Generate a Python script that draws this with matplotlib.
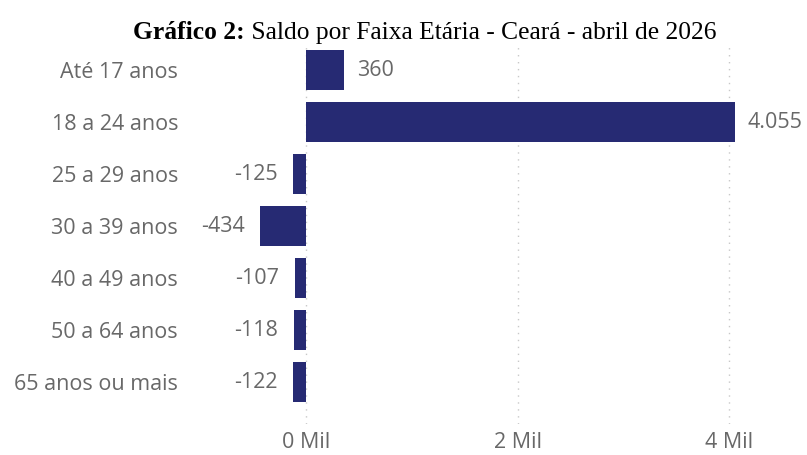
import matplotlib
matplotlib.use("Agg")
import matplotlib.pyplot as plt

categories = ["Até 17 anos", "18 a 24 anos", "25 a 29 anos", "30 a 39 anos",
              "40 a 49 anos", "50 a 64 anos", "65 anos ou mais"]
values = [360, 4055, -125, -434, -107, -118, -122]
value_labels = ["360", "4.055", "-125", "-434", "-107", "-118", "-122"]
xticks = [0, 2000, 4000]
xtick_labels = ["0 Mil", "2 Mil", "4 Mil"]

W, H = 807, 455
fig = plt.figure(figsize=(W / 100, H / 100), dpi=100)
ax_l, ax_r, ax_t, ax_b = 190, 800, 44, 424
ax = fig.add_axes([ax_l / W, 1 - ax_b / H, (ax_r - ax_l) / W, (ax_b - ax_t) / H])

ppu = 211.5 / 2000.0
zero_px = 306
ax.set_xlim(-(zero_px - ax_l) / ppu, (ax_r - zero_px) / ppu)
ax.set_ylim((ax_b - 70) / 52.0, -(70 - ax_t) / 52.0)

bar_color = "#262A73"
ypos = list(range(len(categories)))
ax.barh(ypos, values, height=0.78, color=bar_color, zorder=3)

for x in xticks:
    ax.axvline(x, color="#C8C8C8", linestyle=(0, (1, 4)), linewidth=1.0, zorder=1)

font = ["Open Sans", "DejaVu Sans"]
txt_color = "#686868"
fs = 15.5
for y, v, lab in zip(ypos, values, value_labels):
    if v >= 0:
        ax.annotate(lab, (v, y), xytext=(9, 0), textcoords="offset points",
                    ha="left", va="center", fontsize=fs, color=txt_color, family=font)
    else:
        ax.annotate(lab, (v, y), xytext=(-11, 0), textcoords="offset points",
                    ha="right", va="center", fontsize=fs, color=txt_color, family=font)

ax.set_yticks(ypos)
ax.set_yticklabels(categories, fontsize=fs, color=txt_color, family=font)
ax.set_xticks(xticks)
ax.set_xticklabels(xtick_labels, fontsize=fs, color=txt_color, family=font)
ax.tick_params(axis="y", length=0, pad=(ax_l - 178) * 72 / 100)
ax.tick_params(axis="x", length=0, pad=6)
for s in ax.spines.values():
    s.set_visible(False)

t1 = "Gráfico 2:"
t2 = " Saldo por Faixa Etária - Ceará - abril de 2026"
fig.canvas.draw()
r = fig.canvas.get_renderer()
a = fig.text(0, 0, t1, fontsize=18.4, family="Liberation Serif", weight="bold")
b = fig.text(0, 0, t2, fontsize=18.4, family="Liberation Serif")
wa = a.get_window_extent(r).width
wb = b.get_window_extent(r).width
x0 = 425 - (wa + wb) / 2
a.set_position((x0 / W, 1 - 39 / H))
b.set_position(((x0 + wa) / W, 1 - 39 / H))

fig.savefig("out.png", dpi=100)
